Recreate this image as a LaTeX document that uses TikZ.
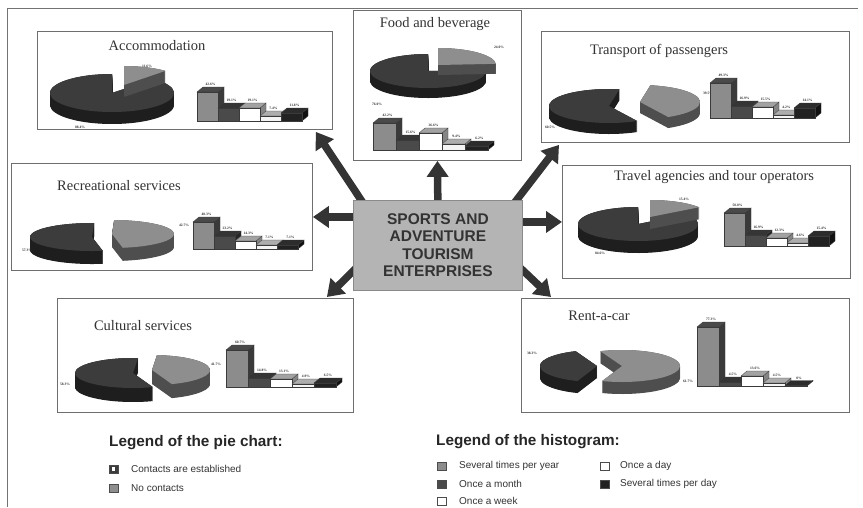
\documentclass[tikz,border=0pt]{standalone}
\usepackage{fontspec}
\setmainfont{Liberation Serif}
\setsansfont{Liberation Sans}
\usetikzlibrary{arrows.meta,calc}
\pgfdeclarelayer{background}
\pgfsetlayers{background,main}

% greys of the charts
\definecolor{panelline}{HTML}{6E6E6E}
\definecolor{arrowgray}{HTML}{343434}
\definecolor{hubfill}{HTML}{B4B4B4}
\definecolor{hubline}{HTML}{8A8A8A}
\definecolor{inkgray}{HTML}{333333}
\definecolor{darktop}{HTML}{3C3C3C}
\definecolor{darkside}{HTML}{1E1E1E}
\definecolor{lighttop}{HTML}{8E8E8E}
\definecolor{lightside}{HTML}{4E4E4E}
\definecolor{barline}{HTML}{3A3A3A}
% bar colours: several times per year, once a month, once a week, once a day, several times per day
\definecolor{front0}{HTML}{8C8C8C}\definecolor{top0}{HTML}{4A4A4A}\definecolor{side0}{HTML}{3A3A3A}
\definecolor{front1}{HTML}{4A4A4A}\definecolor{top1}{HTML}{353535}\definecolor{side1}{HTML}{262626}
\definecolor{front2}{HTML}{FFFFFF}\definecolor{top2}{HTML}{A2A2A2}\definecolor{side2}{HTML}{858585}
\definecolor{front3}{HTML}{F4F4F4}\definecolor{top3}{HTML}{ADADAD}\definecolor{side3}{HTML}{8A8A8A}
\definecolor{front4}{HTML}{222222}\definecolor{top4}{HTML}{2C2C2C}\definecolor{side4}{HTML}{111111}

% one slice of a 3-D pie: cx, cy, rx, ry, depth, start, end, top colour, side colour
\newcommand\pieslice[9]{%
  \foreach \k in {0,0.5,...,#5}{%
    \fill[#9, shift={(0,\k)}] (#1,#2) -- ++(#6:#3 and #4)
      arc[start angle=#6, end angle=#7, x radius=#3, y radius=#4] -- cycle;}
  \fill[#8] (#1,#2) -- ++(#6:#3 and #4)
      arc[start angle=#6, end angle=#7, x radius=#3, y radius=#4] -- cycle;
}

% one 3-D bar: x, base, width, height, front, top, side, label
\newcommand\bdx{6}
\newcommand\bdy{5}
\newcommand\histbar[8]{%
  \filldraw[fill=#7, draw=barline, line width=0.3pt]
    (#1+#3,#2) -- ++(\bdx,-\bdy) -- ++(0,-#4) -- (#1+#3,#2-#4) -- cycle;
  \filldraw[fill=#6, draw=barline, line width=0.3pt]
    (#1,#2-#4) -- ++(\bdx,-\bdy) -- ++(#3,0) -- (#1+#3,#2-#4) -- cycle;
  \filldraw[fill=#5, draw=barline, line width=0.3pt]
    (#1,#2) rectangle ++(#3,-#4);
  \node[pct] at (#1+0.5*#3+0.5*\bdx, #2-#4-\bdy-2.6) {#8};
}
% five bars side by side: x, base, width, list height/label
\newcommand\histo[4]{%
  \foreach \h/\lab [count=\i from 0] in {#4}{%
    \pgfmathsetmacro\bx{#1+\i*#3}%
    \histbar{\bx}{#2}{#3}{\h}{front\i}{top\i}{side\i}{\lab}}%
}

\begin{document}
\begin{tikzpicture}[x=1pt, y=-1pt,
  panel/.style={draw=panelline, line width=0.9pt, fill=white, inner sep=0pt,
    anchor=north west},
  paneltitle/.style={font=\fontsize{14.5}{16}\selectfont, text=inkgray},
  hub/.style={draw=hubline, line width=0.8pt, fill=hubfill, inner sep=0pt,
    anchor=north west, align=center, text=inkgray,
    font=\sffamily\bfseries\fontsize{15.5}{17.5}\selectfont},
  bigarrow/.style={draw=arrowgray, line width=7.5pt,
    -{Triangle[width=21pt,length=16pt]}},
  pct/.style={font=\bfseries\fontsize{3.6}{4}\selectfont, text=inkgray, inner sep=0pt},
  leghead/.style={font=\sffamily\bfseries\fontsize{15.3}{17}\selectfont,
    text=black!85, anchor=west, inner sep=0pt},
  legtext/.style={font=\sffamily\fontsize{10}{12}\selectfont, text=black!80,
    anchor=west, inner sep=0pt},
  legkey/.style={draw=black!70, line width=0.5pt, minimum size=8.5pt,
    inner sep=0pt}]

\useasboundingbox (0,0) rectangle (863,507);

% page frame
\draw[black!55, line width=1.2pt] (7.5,507) -- (7.5,8.5) -- (858,8.5);

% ---------- panels ----------
\node[panel, minimum width=295pt, minimum height=98pt]  (acc)   at (37,31)  {};
\node[panel, minimum width=168pt, minimum height=150pt] (food)  at (353,10) {};
\node[panel, minimum width=308pt, minimum height=111pt] (trans) at (541,31) {};
\node[panel, minimum width=301pt, minimum height=107pt] (recr)  at (11,163) {};
\node[panel, minimum width=288pt, minimum height=113pt] (trav)  at (562,165) {};
\node[panel, minimum width=296pt, minimum height=114pt] (cult)  at (57,298) {};
\node[panel, minimum width=328pt, minimum height=114pt] (rent)  at (521,298) {};

\node[hub, minimum width=169pt, minimum height=90pt] (center) at (353,200)
  {SPORTS AND\\ADVENTURE\\TOURISM\\ENTERPRISES};

% ---------- connectors (behind the central box) ----------
\begin{pgfonlayer}{background}
\draw[bigarrow] (center.center |- center.north) ++(0,10) -- (food.south);
\draw[bigarrow] ($(center.west |- recr.east)+(10,0)$) -- (recr.east);
\draw[bigarrow] ($(center.east |- trav.west)+(-10,0)$) -- (trav.west);
\draw[bigarrow] ($(center.north west)+(20,18)$) -- ($(acc.south east)+(-17,2)$);
\draw[bigarrow] ($(center.north east)+(-20,18)$) -- ($(trans.south west)+(18,2)$);
\draw[bigarrow] ($(center.west)+(20,6)$) -- ($(cult.north east)+(-27,-1)$);
\draw[bigarrow] ($(center.east)+(-20,6)$) -- ($(rent.north west)+(30,-1)$);
\end{pgfonlayer}

% ---------- titles ----------
\node[paneltitle] (tacc)   at (157,46)  {Accommodation};
\node[paneltitle] (tfood)  at (435,24)  {Food and beverage};
\node[paneltitle] (ttrans) at (659,51)  {Transport of passengers};
\node[paneltitle] (trecr)  at (119,186) {Recreational services};
\node[paneltitle] (ttrav)  at (714,177) {Travel agencies and tour operators};
\node[paneltitle] (tcult)  at (143,326) {Cultural services};
\node[paneltitle] (trent)  at (599,316) {Rent-a-car};

% ---------- pies ----------
% Accommodation
\pieslice{112}{93}{62}{19}{12}{312}{630}{darktop}{darkside}
\pieslice{124}{85}{62}{19}{12}{270}{312}{lighttop}{lightside}
\node[pct] at (147,66) {11.6\%};
\node[pct] at (80,127) {88.4\%};
% Food and beverage
\pieslice{428}{71}{58}{17}{10}{356}{630}{darktop}{darkside}
\pieslice{438}{65}{58}{17}{10}{270}{356}{lighttop}{lightside}
\node[pct] at (499,47) {24.0\%};
\node[pct] at (377,104) {76.0\%};
% Transport of passengers
\pieslice{609}{106}{60}{17}{11}{422}{640}{darktop}{darkside}
\pieslice{640}{102}{60}{17}{11}{280}{422}{lighttop}{lightside}
\node[pct] at (708,93) {39.5\%};
\node[pct] at (550,127) {60.5\%};
% Recreational services
\pieslice{92}{237}{62}{14}{13}{80}{272}{darktop}{darkside}
\pieslice{112}{234}{62}{14}{13}{272}{440}{lighttop}{lightside}
\node[pct] at (184,225) {42.7\%};
\node[pct] at (27,250) {57.3\%};
% Travel agencies and tour operators
\pieslice{638}{224}{60}{17}{12}{325}{630}{darktop}{darkside}
\pieslice{650}{217}{60}{17}{12}{270}{325}{lighttop}{lightside}
\node[pct] at (684,199) {15.4\%};
\node[pct] at (600,253) {84.6\%};
% Cultural services
\pieslice{133}{373}{58}{15}{14}{70}{275}{darktop}{darkside}
\pieslice{152}{370}{58}{15}{14}{275}{430}{lighttop}{lightside}
\node[pct] at (216,364) {41.7\%};
\node[pct] at (65,384) {58.3\%};
% Rent-a-car
\pieslice{597}{366}{57}{16}{12}{110}{248}{darktop}{darkside}
\pieslice{622}{366}{58}{16}{12}{248}{470}{lighttop}{lightside}
\node[pct] at (532,353) {38.3\%};
\node[pct] at (688,381) {61.7\%};

% ---------- histograms ----------
\histo{197}{121}{21}{29/42.6\%, 13/19.1\%, 13/19.1\%, 5/7.4\%, 8/11.8\%}
\histo{373}{150}{23}{27/42.2\%, 10/15.6\%, 17/26.6\%, 6/9.4\%, 4/6.2\%}
\histo{710}{118}{21}{35/49.3\%, 12/16.9\%, 11/15.5\%, 3/4.2\%, 10/14.1\%}
\histo{193}{249}{21}{27/48.3\%, 13/23.2\%, 8/14.3\%, 4/7.1\%, 4/7.1\%}
\histo{724}{246}{21}{33/50.8\%, 11/16.9\%, 8/12.3\%, 3/4.6\%, 10/15.4\%}
\histo{226}{387}{22}{37/60.7\%, 9/14.8\%, 8/13.1\%, 3/4.9\%, 4/6.5\%}
\histo{697}{386}{22}{59/77.3\%, 4/4.5\%, 10/13.6\%, 3/4.5\%, 0.5/0\%}

% ---------- legends ----------
\node[leghead] (lpie) at (109,443) {Legend of the pie chart:};
\node[legkey, fill=darktop] (kcon) at (113.5,469) {};
\node[fill=white, minimum size=3.5pt, inner sep=0pt] (kconin) at (kcon) {};
\node[legtext] (tcon) at (131,469) {Contacts are established};
\node[legkey, fill=lighttop] (knon) at (113.5,488) {};
\node[legtext] (tnon) at (131,488) {No contacts};

\node[leghead] (lhist) at (436,442) {Legend of the histogram:};
\node[legkey, fill=front0] (k0) at (441.5,466) {};
\node[legtext] (t0) at (459,466) {Several times per year};
\node[legkey, fill=front1] (k1) at (441.5,484) {};
\node[legtext] (t1) at (459,484) {Once a month};
\node[legkey, fill=white] (k2) at (441.5,501) {};
\node[legtext] (t2) at (459,501) {Once a week};
\node[legkey, fill=white] (k3) at (604.5,466) {};
\node[legtext] (t3) at (620,466) {Once a day};
\node[legkey, fill=front4] (k4) at (604.5,484) {};
\node[legtext] (t4) at (620,484) {Several times per day};
\end{tikzpicture}
\end{document}
